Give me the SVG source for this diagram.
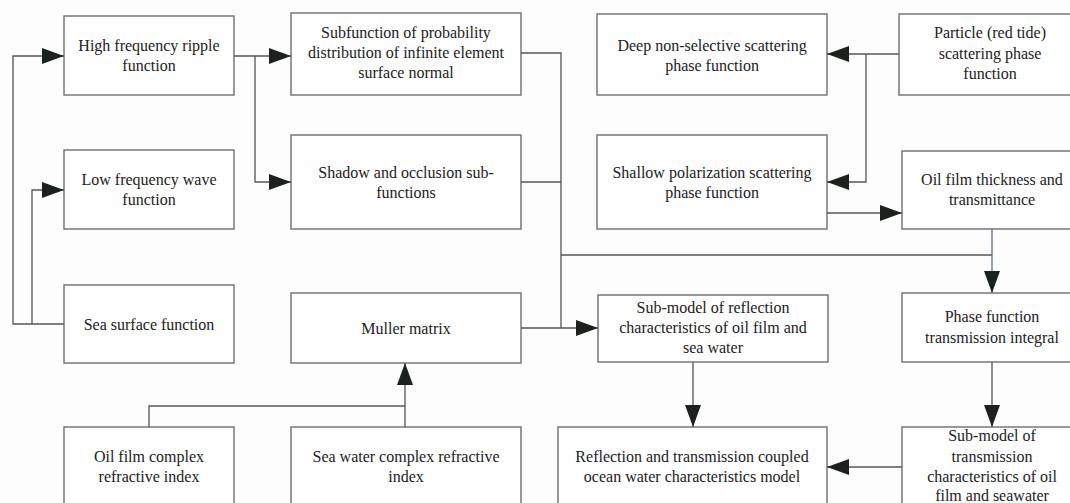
<svg xmlns="http://www.w3.org/2000/svg" width="1070" height="503" viewBox="0 0 1070 503">
<style>
.box{fill:#fefefe;stroke:#6e6e6e;stroke-width:1.4}
.t{font-family:'Liberation Serif','Times New Roman','DejaVu Serif',serif;font-size:16px;fill:#222;text-anchor:middle}
.c{fill:none;stroke:#555;stroke-width:1.3}
.cb{fill:none;stroke:#5a7090;stroke-width:1.3}
</style>
<defs>
<marker id="ah" markerUnits="userSpaceOnUse" markerWidth="22" markerHeight="16" refX="22" refY="8" orient="auto">
<path d="M0,0 L22,8 L0,16 z" fill="#1c211e"/>
</marker>
</defs>
<rect width="1070" height="503" fill="#fdfdfd"/>
<g id="hf"><rect class="box" x="64" y="16" width="170" height="79"/><text class="t" font-family="Liberation Serif, serif"><tspan x="149" y="51">High frequency ripple</tspan><tspan x="149" y="71">function</tspan></text></g>
<g id="lf"><rect class="box" x="64" y="150" width="170" height="79"/><text class="t" font-family="Liberation Serif, serif"><tspan x="149" y="185">Low frequency wave</tspan><tspan x="149" y="205">function</tspan></text></g>
<g id="sea"><rect class="box" x="64" y="285" width="170" height="78"/><text class="t" font-family="Liberation Serif, serif" x="149" y="330">Sea surface function</text></g>
<g id="ocri"><rect class="box" x="64" y="427" width="170" height="85"/><text class="t" font-family="Liberation Serif, serif"><tspan x="149" y="462">Oil film complex</tspan><tspan x="149" y="482">refractive index</tspan></text></g>
<g id="sub"><rect class="box" x="291" y="13" width="230" height="82"/><text class="t" font-family="Liberation Serif, serif"><tspan x="406" y="38">Subfunction of probability</tspan><tspan x="406" y="58">distribution of infinite element</tspan><tspan x="406" y="78">surface normal</tspan></text></g>
<g id="shadow"><rect class="box" x="291" y="135" width="230" height="94"/><text class="t" font-family="Liberation Serif, serif"><tspan x="406" y="178">Shadow and occlusion sub-</tspan><tspan x="406" y="198">functions</tspan></text></g>
<g id="muller"><rect class="box" x="291" y="293" width="230" height="70"/><text class="t" font-family="Liberation Serif, serif" x="406" y="334">Muller matrix</text></g>
<g id="swcri"><rect class="box" x="291" y="427" width="230" height="85"/><text class="t" font-family="Liberation Serif, serif"><tspan x="406" y="462">Sea water complex refractive</tspan><tspan x="406" y="482">index</tspan></text></g>
<g id="deep"><rect class="box" x="597" y="14" width="230" height="81"/><text class="t" font-family="Liberation Serif, serif"><tspan x="712" y="51">Deep non-selective scattering</tspan><tspan x="712" y="71">phase function</tspan></text></g>
<g id="shallow"><rect class="box" x="597" y="135" width="230" height="94"/><text class="t" font-family="Liberation Serif, serif"><tspan x="712" y="178">Shallow polarization scattering</tspan><tspan x="712" y="198">phase function</tspan></text></g>
<g id="refl"><rect class="box" x="598" y="295" width="230" height="67"/><text class="t" font-family="Liberation Serif, serif"><tspan x="713" y="313">Sub-model of reflection</tspan><tspan x="713" y="333">characteristics of oil film and</tspan><tspan x="713" y="353">sea water</tspan></text></g>
<g id="coupled"><rect class="box" x="558" y="427" width="269" height="85"/><text class="t" font-family="Liberation Serif, serif"><tspan x="692" y="462">Reflection and transmission coupled</tspan><tspan x="692" y="482">ocean water characteristics model</tspan></text></g>
<g id="particle"><rect class="box" x="899" y="14" width="183" height="81"/><text class="t" font-family="Liberation Serif, serif"><tspan x="990" y="38">Particle (red tide)</tspan><tspan x="990" y="59">scattering phase</tspan><tspan x="990" y="79">function</tspan></text></g>
<g id="oil"><rect class="box" x="902" y="151" width="180" height="78"/><text class="t" font-family="Liberation Serif, serif"><tspan x="992" y="185">Oil film thickness and</tspan><tspan x="992" y="205">transmittance</tspan></text></g>
<g id="phase"><rect class="box" x="902" y="293" width="180" height="69"/><text class="t" font-family="Liberation Serif, serif"><tspan x="992" y="322">Phase function</tspan><tspan x="992" y="343">transmission integral</tspan></text></g>
<g id="trans"><rect class="box" x="902" y="427" width="180" height="85"/><text class="t" font-family="Liberation Serif, serif"><tspan x="992" y="441">Sub-model of</tspan><tspan x="992" y="462">transmission</tspan><tspan x="992" y="482">characteristics of oil</tspan><tspan x="992" y="501">film and seawater</tspan></text></g>
<g id="connectors">
<path class="c" d="M64,324 H13 V56 H64" marker-end="url(#ah)"/>
<path class="c" d="M32,324 V190 H64" marker-end="url(#ah)"/>
<path class="c" d="M234,56 H291" marker-end="url(#ah)"/>
<path class="c" d="M255,56 V182 H291" marker-end="url(#ah)"/>
<path class="c" d="M521,53 H561 V328"/>
<path class="c" d="M521,182 H561"/>
<path class="c" d="M521,328 H598" marker-end="url(#ah)"/>
<path class="c" d="M561,255 H992"/>
<path class="cb" d="M992,229 V293" marker-end="url(#ah)"/>
<path class="c" d="M899,54 H827" marker-end="url(#ah)"/>
<path class="c" d="M866,54 V182 H827" marker-end="url(#ah)"/>
<path class="c" d="M827,213 H902" marker-end="url(#ah)"/>
<path class="c" d="M992,362 V427" marker-end="url(#ah)"/>
<path class="c" d="M902,467 H827" marker-end="url(#ah)"/>
<path class="c" d="M693,362 V427" marker-end="url(#ah)"/>
<path class="c" d="M149,427 V406 H405"/>
<path class="c" d="M405,427 V363" marker-end="url(#ah)"/>
</g>
</svg>
